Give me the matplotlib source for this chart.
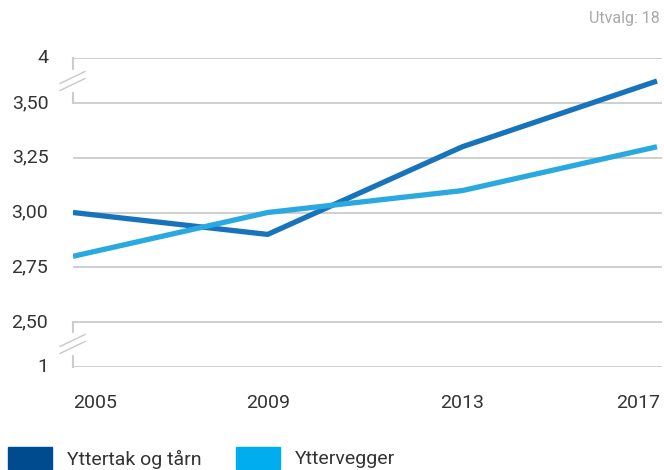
import matplotlib
matplotlib.use("Agg")
import matplotlib.pyplot as plt
from matplotlib.patches import Rectangle
from matplotlib.lines import Line2D

years = [2005, 2009, 2013, 2017]
yttertak = [3.00, 2.90, 3.30, 3.60]
yttervegger = [2.80, 3.00, 3.10, 3.30]
series_names = ["Yttertak og tårn", "Yttervegger"]

# broken axis: 4 and 1 are drawn at squeezed positions
tick_pos = [3.705, 3.50, 3.25, 3.00, 2.75, 2.50, 2.295]
tick_labels = ["4", "3,50", "3,25", "3,00", "2,75", "2,50", "1"]

plt.rcParams['font.family'] = ['Roboto', 'DejaVu Sans']

W, H = 664, 470
fig = plt.figure(figsize=(W / 100, H / 100), dpi=100)
ax = fig.add_axes([73 / W, 1 - 367 / H, (662 - 73) / W, (367 - 58) / H])

ax.set_ylim(2.295, 3.705)
ax.set_xlim(2005, 2005 + 12 * 589 / 584)

grid_col = "#cccccc"
for p in tick_pos:
    ax.axhline(p, color=grid_col, lw=1.3, zorder=1)
# left axis only at the broken parts
ax.plot([2005, 2005], [3.50, 3.705], color=grid_col, lw=1.5, clip_on=False, zorder=1)
ax.plot([2005, 2005], [2.295, 2.50], color=grid_col, lw=1.5, clip_on=False, zorder=1)

# break marks (pixel positions)
def px(x, y):
    return x / W, 1 - y / H

for yc in [81, 344]:
    # white gap in the axis line
    fig.lines.append(Line2D(*zip(px(73, yc - 9), px(73, yc + 9)), color="white", lw=3,
                            transform=fig.transFigure, zorder=4))
    for off in [-3.5, 3.5]:
        (x0, y0), (x1, y1) = px(60, yc + 6 + off), px(85, yc - 6 + off)
        fig.lines.append(Line2D([x0, x1], [y0, y1], color="#c8c8c8", lw=1.0,
                                transform=fig.transFigure, zorder=5))

ax.plot(years, yttertak, color="#1773ba", lw=3.8, solid_capstyle="butt", zorder=3)
ax.plot(years, yttervegger, color="#2aa9e1", lw=3.8, solid_capstyle="butt", zorder=3)

for s in ax.spines.values():
    s.set_visible(False)
ax.set_xticks([])
ax.set_yticks([])

txt_col = "#333333"
for p, lab in zip(tick_pos, tick_labels):
    ax.text(-0.042, p, lab, transform=ax.get_yaxis_transform(), ha="right", va="center",
            fontsize=14, color=txt_col)

for i, yr in enumerate(years):
    ha = "left" if i == 0 else ("right" if i == len(years) - 1 else "center")
    xx = yr if 0 < i < len(years) - 1 else (2005 if i == 0 else 2005 + 12 * 587 / 584)
    ax.text(xx, 2.295 - 0.165, str(yr), ha=ha, va="center", fontsize=14, color=txt_col)

fig.text(660 / W, 1 - 18 / H, "Utvalg: 18", ha="right", va="center", fontsize=11.5, color="#aaaaaa")

# legend
leg_cols = ["#004a8f", "#00aeef"]
leg_x = [8, 236]
for x0, c, name in zip(leg_x, leg_cols, series_names):
    fig.patches.append(Rectangle((x0 / W, 1 - 469 / H), 44 / W, 22 / H, color=c,
                                 transform=fig.transFigure))
    fig.text((x0 + 59) / W, 1 - 459 / H, name, ha="left", va="center", fontsize=14, color=txt_col)

fig.savefig("out.png", dpi=100)
